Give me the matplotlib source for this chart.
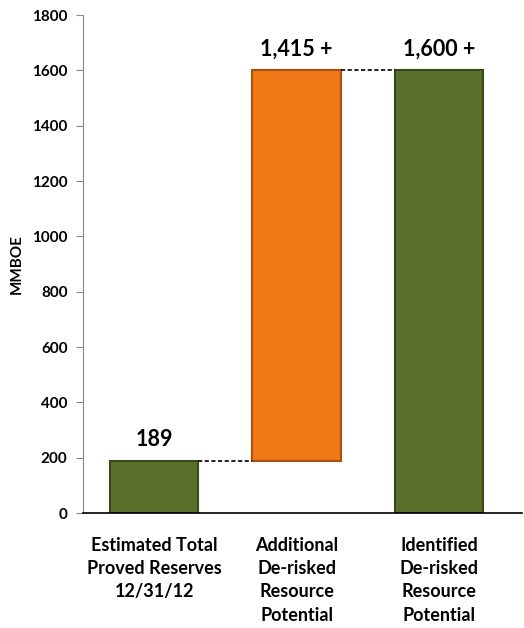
import matplotlib.pyplot as plt

categories = ['Estimated Total\nProved Reserves\n12/31/12',
              'Additional\nDe-risked\nResource\nPotential',
              'Identified\nDe-risked\nResource\nPotential']
bottoms = [0, 189, 0]
heights = [189, 1411, 1600]
labels = ['189', '1,415 +', '1,600 +']
colors = ['#5b6f2b', '#f07816', '#5b6f2b']
edges = ['#39471a', '#a8520c', '#39471a']

plt.rcParams['font.family'] = ['Lato', 'DejaVu Sans']
plt.rcParams['font.weight'] = 'bold'

fig = plt.figure(figsize=(5.24, 6.28), dpi=100)
ax = fig.add_axes([0.158, 0.183, 0.838, 0.793])

x = list(range(len(categories)))
width = 0.62
ax.bar(x, heights, width, bottom=bottoms, color=colors, edgecolor=edges, linewidth=1.5)

for i in range(len(x)):
    top = bottoms[i] + heights[i]
    ax.text(x[i], top + 40, labels[i], ha='center', va='bottom', fontsize=15.5, fontweight='bold')

# connectors between bars
ax.plot([x[0] + width / 2, x[1] - width / 2], [189, 189], color='black', dashes=(2.5, 1.5), linewidth=1.2)
ax.plot([x[1] + width / 2, x[2] - width / 2], [1600, 1600], color='black', dashes=(2.5, 1.5), linewidth=1.2)

ax.set_xlim(-0.5, 2.58)
ax.set_ylim(0, 1800)
ax.set_yticks(range(0, 1801, 200))
ax.set_xticks(x)
ax.set_xticklabels(categories, fontsize=13, fontweight='bold', linespacing=1.45)
ax.tick_params(axis='x', length=0, pad=17)
ax.tick_params(axis='y', labelsize=11, length=5, color='#888888', pad=6)
for t in ax.get_yticklabels():
    t.set_fontweight('bold')

ax.spines['top'].set_visible(False)
ax.spines['right'].set_visible(False)
ax.spines['left'].set_color('#888888')
ax.spines['bottom'].set_color('black')
ax.spines['bottom'].set_linewidth(1.2)

ax.set_ylabel('MMBOE', fontsize=11, fontweight='bold', labelpad=6)

fig.savefig('out.png', dpi=100)
